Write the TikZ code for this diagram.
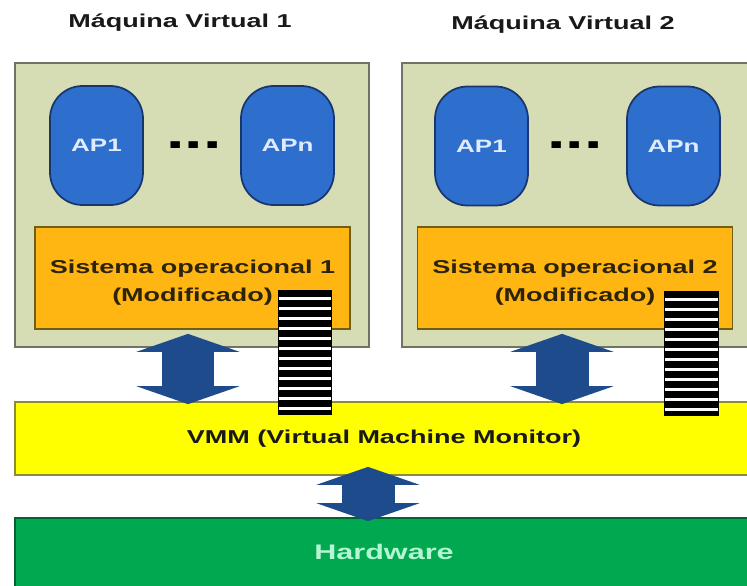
\documentclass[tikz,border=0pt]{standalone}
\usepackage{fontspec}
\setmainfont{Liberation Sans}[FakeStretch=1.45]
\usepackage{xcolor}
\usepackage{tikz}
\usetikzlibrary{
	arrows.meta		% Advanced arrows
}
\definecolor{vm-light}{RGB}{214,221,180}
\definecolor{vm-border}{RGB}{110,115,100}
\definecolor{ap-blue}{RGB}{46,110,205}
\definecolor{ap-border}{RGB}{25,55,110}
\definecolor{ap-text}{RGB}{225,235,255}
\definecolor{os-orange}{RGB}{255,182,18}
\definecolor{os-border}{RGB}{110,95,20}
\definecolor{os-text}{RGB}{45,35,10}
\definecolor{vmm-yellow}{RGB}{255,255,0}
\definecolor{vmm-border}{RGB}{140,140,50}
\definecolor{hw-green}{RGB}{0,168,80}
\definecolor{hw-border}{RGB}{0,100,50}
\definecolor{hw-text}{RGB}{180,245,210}
\definecolor{arrow-blue}{RGB}{30,75,140}

\begin{document}
\begin{tikzpicture}[x=0.02cm, y=-0.02cm]
		\tikzstyle{vmbox} = [draw=vm-border, fill=vm-light, line width=1pt, minimum width=7.08cm, minimum height=5.68cm, inner sep=0pt]
		\tikzstyle{vmtitle} = [font=\fontsize{10.6}{12}\selectfont\bfseries, text=black!90]
		\tikzstyle{app} = [draw=ap-border, fill=ap-blue, line width=1pt, rounded corners=0.65cm, minimum width=1.86cm, minimum height=2.38cm, text=ap-text, font=\fontsize{10.2}{12}\selectfont\bfseries]
		\tikzstyle{apdots} = [font=\fontsize{26}{26}\selectfont\bfseries, inner sep=0pt]
		\tikzstyle{osbox} = [draw=os-border, fill=os-orange, line width=1pt, minimum width=6.3cm, minimum height=2.04cm, inner sep=0pt]
		\tikzstyle{osfont} = [yshift=-0.1cm, align=center, text=os-text, font=\fontsize{10.6}{16}\selectfont\bfseries]
		\tikzstyle{levelbox} = [line width=1pt, minimum width=14.9cm, inner sep=0pt]
		\tikzstyle{levelfont} = [font=\fontsize{10.6}{12}\selectfont\bfseries]
		\tikzstyle{queue} = [draw=black, fill=black, minimum width=1.07cm, minimum height=2.48cm, inner sep=0pt, path picture={
			\foreach \k in {0, ..., 11}{
				\draw[white, line width=0.07cm] ([yshift=-0.16cm-0.2cm*\k]path picture bounding box.north west) -- ([yshift=-0.16cm-0.2cm*\k]path picture bounding box.north east);
			}
		}]
		\tikzstyle{flow} = [draw=arrow-blue, line width=1.06cm, {Triangle[length=0.36cm, width=2.06cm]}-{Triangle[length=0.36cm, width=2.06cm]}]
		
		\useasboundingbox (0, 0) rectangle (747, 585);
		\clip (0, 0) rectangle (747, 585);
		
		% Virtual machine 1
		%% Box and title
		\node[vmbox] at (192, 205) (vmOne) {};
		\node[vmtitle] at (180, 23) (vmOneTitle) {Máquina Virtual 1};
		%% Applications
		\node[app] at (96.5, 145.5) (vmOneApOne) {AP1};
		\node[app] at (287.5, 145.5) (vmOneApN) {APn};
		\node[apdots] at (194, 145) (vmOneDots) {...};
		%% Operating system
		\node[osbox, label={[osfont]center:{Sistema operacional 1\\(Modificado)}}] at (192.5, 278) (vmOneOs) {};
		
		% Virtual machine 2 (cut off on the right)
		%% Box and title
		\node[vmbox] at (579, 205) (vmTwo) {};
		\node[vmtitle] at (563, 25) (vmTwoTitle) {Máquina Virtual 2};
		%% Applications
		\node[app] at (481.5, 146) (vmTwoApOne) {AP1};
		\node[app] at (673.5, 146) (vmTwoApN) {APn};
		\node[apdots] at (575, 145) (vmTwoDots) {...};
		%% Operating system
		\node[osbox, label={[osfont]center:{Sistema operacional 2\\(Modificado)}}] at (575, 278) (vmTwoOs) {};
		
		% VMM and hardware
		\node[levelbox, draw=vmm-border, fill=vmm-yellow, minimum height=1.46cm, label={[xshift=-0.07cm, levelfont, text=black!90]center:VMM (Virtual Machine Monitor)}] at (387.5, 438.5) (vmm) {};
		\node[levelbox, draw=hw-border, fill=hw-green, minimum height=1.64cm, label={[xshift=-0.07cm, yshift=0.14cm, font=\fontsize{12}{14}\selectfont\bfseries, text=hw-text]center:Hardware}] at (387.5, 559) (hw) {};
		
		% Arrows between layers
		\draw[flow] ([xshift=-0.09cm, yshift=-0.08cm]vmOneOs.south) to ([xshift=-0.09cm, yshift=-0.06cm]vmOneOs.south |- vmm.north);
		\draw[flow] ([xshift=-0.26cm, yshift=-0.08cm]vmTwoOs.south) to ([xshift=-0.26cm, yshift=-0.06cm]vmTwoOs.south |- vmm.north);
		\draw[flow] ([xshift=-0.39cm, yshift=0.18cm]vmm.south) to ([xshift=-0.39cm, yshift=-0.08cm]vmm.south |- hw.north);
		
		% Queues (on top of everything)
		\node[queue] at (305, 352.5) (vmOneQueue) {};
		\node[queue] at (691.5, 353.5) (vmTwoQueue) {};
	\end{tikzpicture}
\end{document}
